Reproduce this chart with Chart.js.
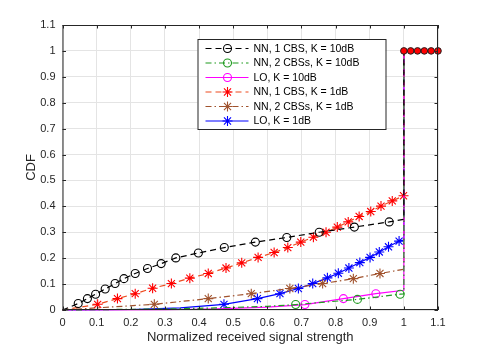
<!DOCTYPE html>
<html lang="en">
<head>
    <meta charset="UTF-8">
    <title>CDF of normalized received signal strength</title>
    <script src="https://cdn.jsdelivr.net/npm/chart.js@4"></script>
    <style>
        html, body { margin: 0; padding: 0; background: #fff; }
        #wrap { width: 485px; height: 349px; }
    </style>
</head>
<body>
    <div id="wrap"><canvas id="cdfChart"></canvas></div>
    <script>
        // series: marker points, line-only points, value at x = 1
        const nn1k10MarkX = [0.046, 0.073, 0.097, 0.125, 0.154, 0.180, 0.213, 0.249, 0.289, 0.332, 0.398, 0.474, 0.565, 0.657, 0.752, 0.855, 0.957];
        const nn1k10MarkY = [0.025, 0.044, 0.061, 0.081, 0.102, 0.121, 0.141, 0.160, 0.179, 0.201, 0.220, 0.241, 0.262, 0.280, 0.300, 0.320, 0.340];
        const nn1k10LineX = [];
        const nn1k10LineY = [];
        const nn1k10End = 0.35;

        const nn2k10MarkX = [0.683, 0.864, 0.989];
        const nn2k10MarkY = [0.021, 0.041, 0.061];
        const nn2k10LineX = [0.3, 0.45, 0.6];
        const nn2k10LineY = [0.004, 0.008, 0.014];
        const nn2k10End = 0.062;

        const loK10MarkX = [0.710, 0.823, 0.918];
        const loK10MarkY = [0.021, 0.044, 0.063];
        const loK10LineX = [0.3, 0.45, 0.6];
        const loK10LineY = [0.001, 0.004, 0.011];
        const loK10End = 0.076;

        const nn1k1MarkX = [0.103, 0.161, 0.213, 0.264, 0.319, 0.373, 0.427, 0.479, 0.525, 0.573, 0.620, 0.660, 0.698, 0.735, 0.772, 0.805, 0.837, 0.869, 0.903, 0.933, 0.966, 0.999];
        const nn1k1MarkY = [0.022, 0.044, 0.063, 0.084, 0.102, 0.123, 0.141, 0.162, 0.182, 0.203, 0.222, 0.241, 0.262, 0.281, 0.300, 0.320, 0.340, 0.361, 0.380, 0.401, 0.421, 0.441];
        const nn1k1LineX = [];
        const nn1k1LineY = [];
        const nn1k1End = 0.441;

        const nn2k1MarkX = [0.269, 0.427, 0.553, 0.666, 0.762, 0.852, 0.930];
        const nn2k1MarkY = [0.022, 0.044, 0.063, 0.083, 0.102, 0.121, 0.141];
        const nn2k1LineX = [];
        const nn2k1LineY = [];
        const nn2k1End = 0.157;

        const loK1MarkX = [0.473, 0.571, 0.637, 0.691, 0.733, 0.776, 0.808, 0.839, 0.871, 0.901, 0.928, 0.955, 0.986];
        const loK1MarkY = [0.022, 0.044, 0.063, 0.083, 0.102, 0.124, 0.142, 0.162, 0.183, 0.203, 0.224, 0.244, 0.266];
        const loK1LineX = [0.2, 0.345];
        const loK1LineY = [0.002, 0.008];
        const loK1End = 0.27;

        // saturated part of every CDF, drawn with filled markers
        const topX = [1.0, 1.02, 1.04, 1.06, 1.08, 1.1];
        const topY = [1, 1, 1, 1, 1, 1];

        const seriesLabels = [
            'NN, 1 CBS, K = 10dB',
            'NN, 2 CBSs, K = 10dB',
            'LO, K = 10dB',
            'NN, 1 CBS, K = 1dB',
            'NN, 2 CBSs, K = 1dB',
            'LO, K = 1dB'
        ];

        const xTicks = [0, 0.1, 0.2, 0.3, 0.4, 0.5, 0.6, 0.7, 0.8, 0.9, 1, 1.1];
        const yTicks = [0, 0.1, 0.2, 0.3, 0.4, 0.5, 0.6, 0.7, 0.8, 0.9, 1, 1.1];

        function buildPoints(markX, markY, lineX, lineY, end) {
            let pts = [{x: 0, y: 0, m: false}];
            markX.forEach((x, i) => pts.push({x: x, y: markY[i], m: true}));
            lineX.forEach((x, i) => pts.push({x: x, y: lineY[i], m: false}));
            pts.sort((a, b) => a.x - b.x);
            pts.push({x: 1, y: end, m: false});
            pts.push({x: 1, y: 1, m: false});
            pts.push({x: 1.1, y: 1, m: false});
            return pts;
        }

        function series(i, pts, color, markColor, dash, style, radius) {
            return {
                label: seriesLabels[i],
                data: pts,
                borderColor: color,
                borderWidth: 1.2,
                borderDash: dash,
                pointStyle: style,
                pointBorderColor: markColor,
                pointBackgroundColor: 'rgba(0,0,0,0)',
                pointBorderWidth: 1.1,
                pointRadius: ctx => (ctx.raw && ctx.raw.m) ? radius : 0,
                pointHoverRadius: 0,
                fill: false,
                tension: 0,
                clip: false,
                markColor: markColor,
                markRadius: radius
            };
        }

        const datasets = [
            series(0, buildPoints(nn1k10MarkX, nn1k10MarkY, nn1k10LineX, nn1k10LineY, nn1k10End), '#000000', '#000000', [6, 4], 'circle', 4),
            series(1, buildPoints(nn2k10MarkX, nn2k10MarkY, nn2k10LineX, nn2k10LineY, nn2k10End), '#1f9a1f', '#1f9a1f', [6, 3, 1.5, 3], 'circle', 4),
            series(2, buildPoints(loK10MarkX, loK10MarkY, loK10LineX, loK10LineY, loK10End), '#ff00ff', '#ff00ff', [], 'circle', 4),
            series(3, buildPoints(nn1k1MarkX, nn1k1MarkY, nn1k1LineX, nn1k1LineY, nn1k1End), '#ee4a1e', '#ff0000', [6, 4], 'star', 5),
            series(4, buildPoints(nn2k1MarkX, nn2k1MarkY, nn2k1LineX, nn2k1LineY, nn2k1End), '#a0522d', '#a0522d', [6, 3, 1.5, 3], 'star', 5),
            series(5, buildPoints(loK1MarkX, loK1MarkY, loK1LineX, loK1LineY, loK1End), '#0000ff', '#0000ff', [], 'star', 5),
            {
                label: '',
                data: topX.map((x, i) => ({x: x, y: topY[i]})),
                showLine: false,
                pointStyle: 'circle',
                pointRadius: 3.3,
                pointHoverRadius: 0,
                pointBackgroundColor: '#ff0000',
                pointBorderColor: '#222222',
                pointBorderWidth: 1,
                clip: false,
                order: -1
            }
        ];

        const axisColor = '#262626';
        const fontFamily = '"Liberation Sans", Arial, sans-serif';
        const fmt = v => String(Math.round(v * 10) / 10);

        // MATLAB-like box, inward ticks and framed legend
        const boxPlugin = {
            id: 'boxPlugin',
            afterDraw(chart) {
                const ctx = chart.ctx;
                const a = chart.chartArea;
                const xs = chart.scales.x, ys = chart.scales.y;
                ctx.save();
                ctx.strokeStyle = axisColor;
                ctx.lineWidth = 1;
                ctx.setLineDash([]);
                ctx.strokeRect(a.left + 0.5, a.top + 0.5, a.right - a.left - 1, a.bottom - a.top - 1);
                ctx.beginPath();
                xTicks.forEach(v => {
                    const px = Math.round(xs.getPixelForValue(v)) + 0.5;
                    ctx.moveTo(px, a.bottom); ctx.lineTo(px, a.bottom - 3.5);
                    ctx.moveTo(px, a.top); ctx.lineTo(px, a.top + 3.5);
                });
                yTicks.forEach(v => {
                    const py = Math.round(ys.getPixelForValue(v)) + 0.5;
                    ctx.moveTo(a.left, py); ctx.lineTo(a.left + 3.5, py);
                    ctx.moveTo(a.right, py); ctx.lineTo(a.right - 3.5, py);
                });
                ctx.stroke();

                // legend
                const lx = a.left + 135, ly = a.top + 14, lw = 188, lh = 90;
                ctx.fillStyle = '#ffffff';
                ctx.fillRect(lx, ly, lw, lh);
                ctx.strokeStyle = axisColor;
                ctx.strokeRect(lx + 0.5, ly + 0.5, lw, lh);
                ctx.font = '10.5px ' + fontFamily;
                ctx.textBaseline = 'middle';
                chart.data.datasets.slice(0, 6).forEach((ds, i) => {
                    const y = ly + 9.5 + i * 14.5;
                    ctx.beginPath();
                    ctx.strokeStyle = ds.borderColor;
                    ctx.lineWidth = 1.2;
                    ctx.setLineDash(ds.borderDash);
                    ctx.moveTo(lx + 8, y); ctx.lineTo(lx + 51, y);
                    ctx.stroke();
                    ctx.setLineDash([]);
                    ctx.strokeStyle = ds.markColor;
                    ctx.fillStyle = 'rgba(0,0,0,0)';
                    ctx.lineWidth = 1.1;
                    Chart.helpers.drawPoint(ctx, {
                        pointStyle: ds.pointStyle, rotation: 0,
                        radius: ds.markRadius, borderWidth: 1.1
                    }, lx + 30, y);
                    ctx.fillStyle = '#000000';
                    ctx.fillText(ds.label, lx + 56, y + 0.5);
                });
                ctx.restore();
            }
        };

        const ctx = document.getElementById('cdfChart').getContext('2d');
        const cdfChart = new Chart(ctx, {
            type: 'line',
            data: { datasets: datasets },
            options: {
                responsive: true,
                maintainAspectRatio: false,
                animation: false,
                events: [],
                layout: { padding: { left: 0, right: 47, top: 25, bottom: 0 } },
                plugins: {
                    legend: { display: false },
                    tooltip: { enabled: false }
                },
                scales: {
                    x: {
                        type: 'linear',
                        min: 0,
                        max: 1.1,
                        afterBuildTicks: s => { s.ticks = xTicks.map(v => ({value: v})); },
                        afterFit: s => { s.height = 39; },
                        grid: { color: '#e4e4e4', drawTicks: false },
                        border: { display: false },
                        ticks: {
                            padding: 6,
                            maxRotation: 0,
                            autoSkip: false,
                            color: axisColor,
                            font: { family: fontFamily, size: 11 },
                            callback: v => fmt(v)
                        },
                        title: {
                            display: true,
                            text: 'Normalized received signal strength',
                            color: axisColor,
                            padding: { top: 0, bottom: 4 },
                            font: { family: fontFamily, size: 13 }
                        }
                    },
                    y: {
                        type: 'linear',
                        min: 0,
                        max: 1.1,
                        afterBuildTicks: s => { s.ticks = yTicks.map(v => ({value: v})); },
                        afterFit: s => { s.width = 62.5; },
                        grid: { color: '#e4e4e4', drawTicks: false },
                        border: { display: false },
                        ticks: {
                            padding: 7,
                            autoSkip: false,
                            color: axisColor,
                            font: { family: fontFamily, size: 11 },
                            callback: v => fmt(v)
                        },
                        title: {
                            display: true,
                            text: 'CDF',
                            color: axisColor,
                            padding: { top: 24, bottom: 0 },
                            font: { family: fontFamily, size: 13 }
                        }
                    }
                }
            },
            plugins: [boxPlugin]
        });
    </script>
</body>
</html>
